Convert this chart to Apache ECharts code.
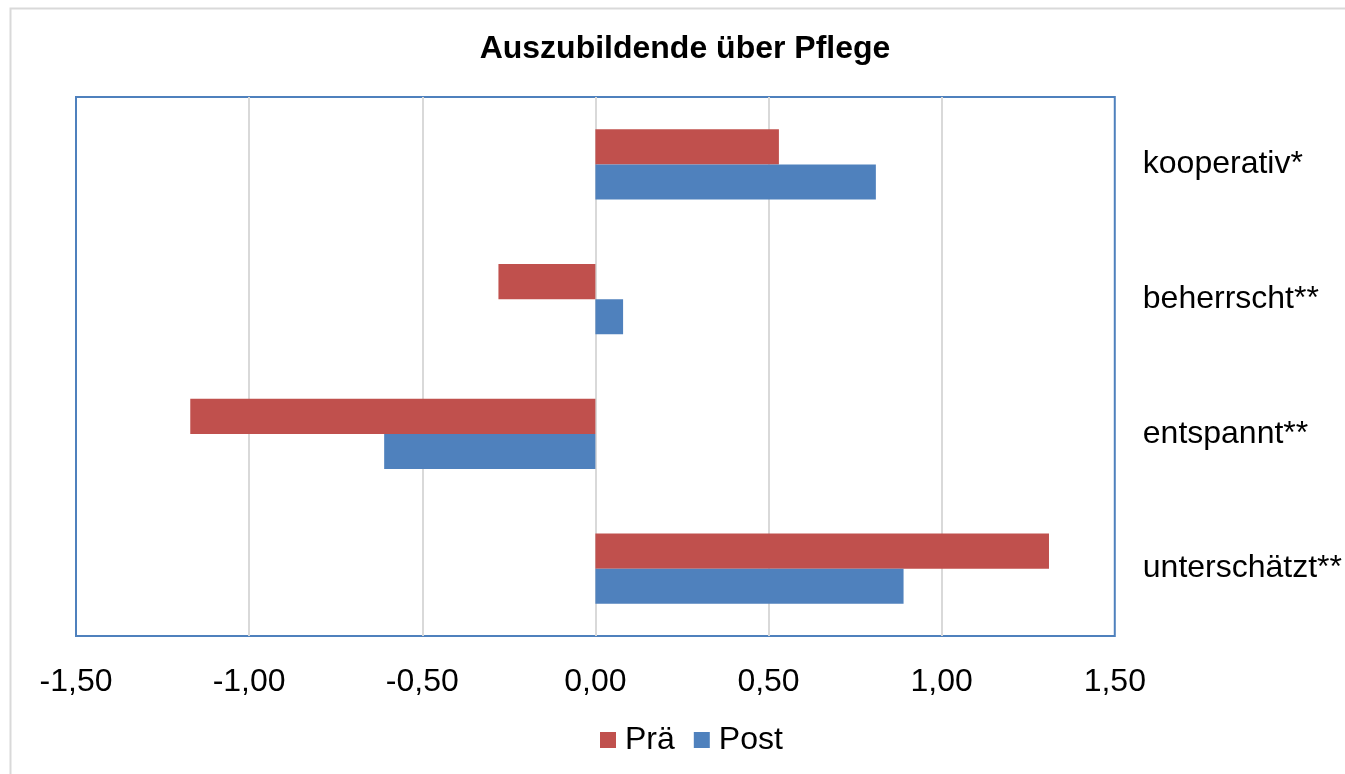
<!DOCTYPE html>
<html>
<head>
<meta charset="utf-8">
<script src="https://cdn.jsdelivr.net/npm/echarts@6/dist/echarts.min.js"></script>
<style>
html,body{margin:0;padding:0;background:#fff;}
#c{width:1345px;height:774px;}
</style>
</head>
<body>
<div id="c"></div>
<script>
const categories = ['kooperativ*', 'beherrscht**', 'entspannt**', 'unterschätzt**'];
const pre = [0.53, -0.28, -1.17, 1.31];
const post = [0.81, 0.08, -0.61, 0.89];
const seriesNames = ['Prä', 'Post'];

const FONT = "'Liberation Sans', Arial, sans-serif";
const chart = echarts.init(document.getElementById('c'));
chart.setOption({
  animation: false,
  backgroundColor: '#fff',
  textStyle: { fontFamily: FONT },
  title: {
    text: 'Auszubildende über Pflege',
    left: 680, top: 28, textAlign: 'center',
    textStyle: { fontFamily: FONT, fontSize: 32, fontWeight: 'bold', color: '#000' }
  },
  legend: {
    data: seriesNames,
    left: 595, top: 719,
    itemWidth: 16, itemHeight: 16, itemGap: 19,
    icon: 'rect',
    textStyle: { fontFamily: FONT, fontSize: 32, color: '#000', padding: [0, 0, 0, 4] }
  },
  grid: {
    left: 76, right: 230, top: 97, bottom: 138,
    show: true, borderColor: '#4F81BD', borderWidth: 2, backgroundColor: 'transparent'
  },
  xAxis: {
    type: 'value', min: -1.5, max: 1.5, interval: 0.5,
    axisLine: { show: false }, axisTick: { show: false },
    splitLine: { show: true, showMinLine: false, showMaxLine: false, lineStyle: { color: '#D9D9D9', width: 2 } },
    axisLabel: {
      fontFamily: FONT, fontSize: 32, color: '#000', margin: 30,
      formatter: v => v.toFixed(2).replace('.', ',')
    }
  },
  yAxis: {
    type: 'category', data: categories, inverse: true, position: 'right',
    axisLine: { show: false }, axisTick: { show: false },
    axisLabel: { fontFamily: FONT, fontSize: 32, color: '#000', margin: 28, align: 'left' }
  },
  series: [
    { name: seriesNames[0], type: 'bar', data: pre, barGap: '0%', barCategoryGap: '48%',
      itemStyle: { color: '#C0504D' } },
    { name: seriesNames[1], type: 'bar', data: post, barGap: '0%', barCategoryGap: '48%',
      itemStyle: { color: '#4F81BD' } }
  ],
  graphic: [{
    type: 'rect', shape: { x: 10.5, y: 8.5, width: 1340, height: 770 },
    style: { fill: 'none', stroke: '#D9D9D9', lineWidth: 2 }, silent: true, z: 100
  }]
});
</script>
</body>
</html>
